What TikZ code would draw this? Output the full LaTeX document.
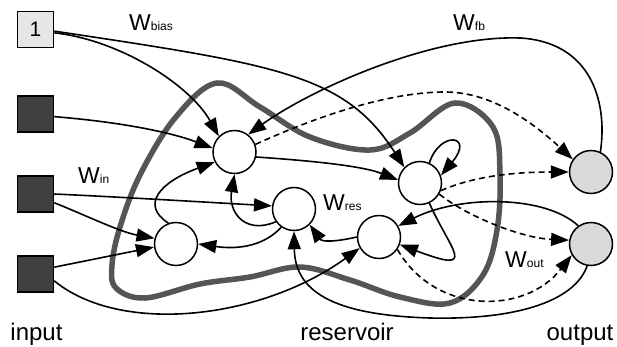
\documentclass[tikz,border=0pt]{standalone}
\usepackage{fontspec}
\setmainfont{Liberation Sans}
\usetikzlibrary{arrows.meta}
\definecolor{resgray}{HTML}{555555}
\definecolor{indark}{HTML}{404040}
\definecolor{biasfill}{HTML}{E6E6E6}
\definecolor{outfill}{HTML}{D9D9D9}
\begin{document}
\begin{tikzpicture}[x=1pt,y=-1pt,
  neuron/.style={circle,draw,line width=1.5pt,fill=white,minimum size=43pt,inner sep=0pt},
  outneuron/.style={neuron,fill=outfill},
  inbox/.style={rectangle,draw,line width=1.5pt,fill=indark,minimum size=36pt,inner sep=0pt},
  biasbox/.style={inbox,fill=biasfill,font=\fontsize{21}{21}\selectfont},
  edge/.style={line width=1.6pt,-{Triangle[length=18pt,width=13pt]}},
  dashedge/.style={edge,dash pattern=on 6pt off 4pt},
  reservoir/.style={line width=5.5pt,draw=resgray},
  wlabel/.style={anchor=base west,inner sep=0pt,font=\fontsize{23}{23}\selectfont},
  caption/.style={anchor=base,inner sep=0pt,font=\fontsize{24}{24}\selectfont}]
\useasboundingbox (0,0) rectangle (617,347);

% reservoir outline
\draw[reservoir] plot[smooth cycle, tension=0.6] coordinates {
  (217,83) (260,107) (310,137) (370,150) (410,133) (455,103) (493,127)
  (500,175) (497,230) (483,275) (450,303) (400,297) (350,280) (300,267)
  (250,277) (200,284) (145,298) (116,288) (112,265) (120,227) (140,175) (175,118)};

% nodes
\node[biasbox] (bias) at (35.5,29.5) {1};
\node[inbox] (in1) at (35.5,114) {};
\node[inbox] (in2) at (35.5,194) {};
\node[inbox] (in3) at (35.5,274) {};
\node[neuron] (N1) at (234.5,152) {};
\node[neuron] (N2) at (294,209) {};
\node[neuron] (N3) at (176,244) {};
\node[neuron] (N4) at (420,183) {};
\node[neuron] (N5) at (379,237) {};
\node[outneuron] (O1) at (591,172) {};
\node[outneuron] (O2) at (591,244) {};

% labels
\node[wlabel] (wbias) at (129,31) {W{\fontsize{12}{12}\selectfont bias}};
\node[wlabel] (wfb) at (453,31) {W{\fontsize{12}{12}\selectfont fb}};
\node[wlabel] (win) at (78,183) {W{\fontsize{12}{12}\selectfont in}};
\node[wlabel] (wres) at (323,210) {W{\fontsize{12}{12}\selectfont res}};
\node[wlabel] (wout) at (505,267) {W{\fontsize{12}{12}\selectfont out}};
\node[caption] (capin) at (36.5,340) {input};
\node[caption] (capres) at (347,340) {reservoir};
\node[caption] (capout) at (580,340) {output};

% input and bias connections
\draw[edge] (bias.-10) .. controls (120,40) and (190,85) .. (N1.135);
\draw[edge] (bias.-5) .. controls (280,65) and (345,75) .. (N4.135);
\draw[edge] (in1.-8) .. controls (120,122) and (170,132) .. (N1.170);
\draw[edge] (in2.0) .. controls (120,197) and (220,203) .. (N2.172);
\draw[edge] (in2.-25) .. controls (85,215) and (120,232) .. (N3.165);
\draw[edge] (in3.20) -- (N3.188);
\draw[edge] (in3.-20) .. controls (120,335) and (260,320) .. (N5.210);

% feedback
\draw[edge] (O1.65) .. controls (608,100) and (590,42) .. (520,38) .. controls (430,35) and (310,90) .. (N1.52);
\draw[edge] (O2.125) .. controls (545,195) and (460,195) .. (N5.30);
\draw[edge] (O2.-100) .. controls (575,300) and (520,320) .. (430,318) .. controls (330,315) and (295,290) .. (N2.-90);

% outputs
\draw[dashedge] (N1.20) .. controls (320,115) and (390,92) .. (445,92) .. controls (490,92) and (530,120) .. (O1.145);
\draw[dashedge] (N4.-20) .. controls (465,180) and (500,172) .. (O1.180);
\draw[dashedge] (N4.-30) .. controls (465,215) and (520,238) .. (O2.170);
\draw[dashedge] (N5.-34) .. controls (435,315) and (525,315) .. (O2.210);

% reservoir internal
\draw[edge] (N1.-13) .. controls (300,160) and (360,165) .. (N4.172);
\draw[edge] (N4.65) .. controls (440,130) and (475,135) .. (N4.20);
\draw[edge] (N4.-65) .. controls (450,250) and (480,275) .. (N5.-20);
\draw[edge] (N2.215) .. controls (245,235) and (228,212) .. (N1.-90);
\draw[edge] (N2.235) .. controls (265,245) and (240,250) .. (N3.0);
\draw[edge] (N3.110) .. controls (140,205) and (160,182) .. (N1.207);
\draw[edge] (N5.180) .. controls (335,242) and (322,242) .. (N2.-45);
\end{tikzpicture}
\end{document}
